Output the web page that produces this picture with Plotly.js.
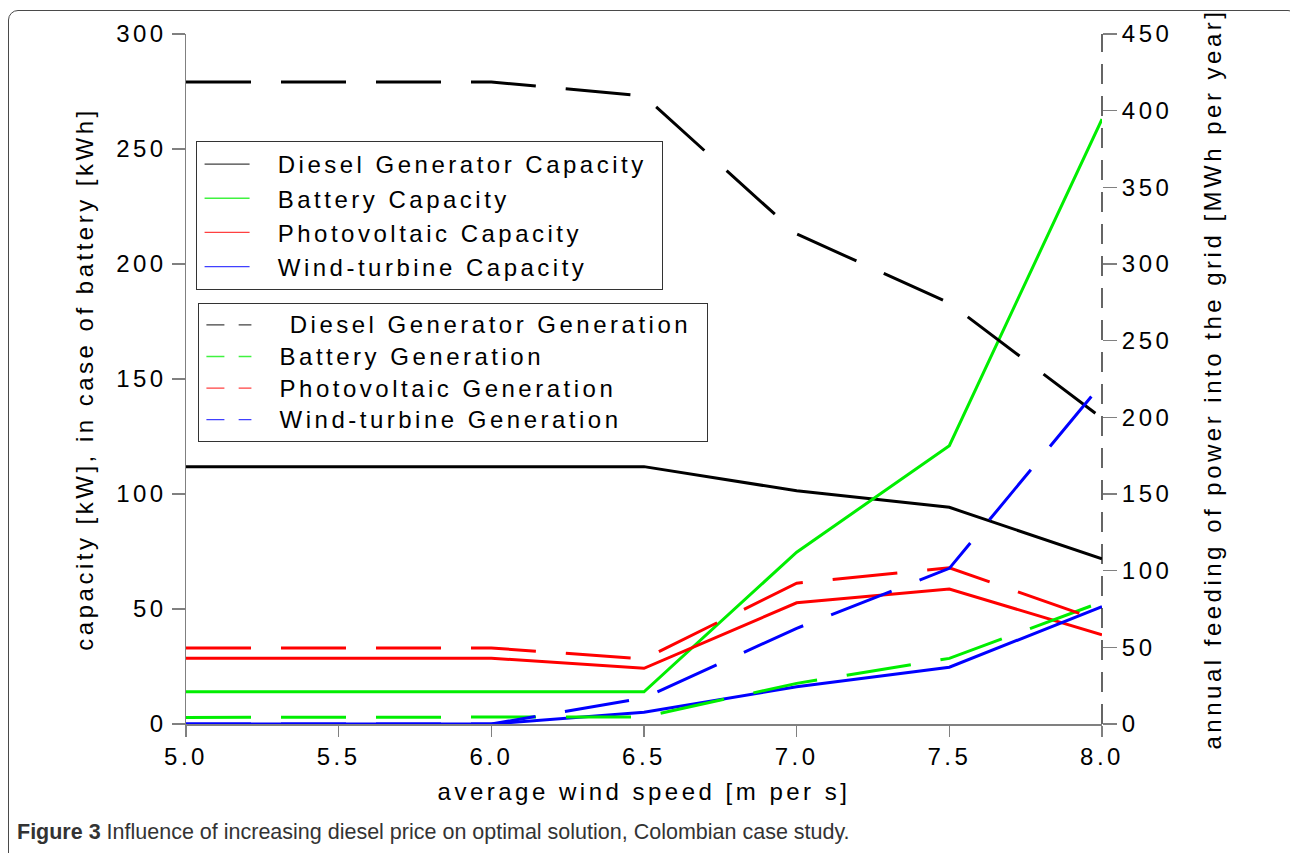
<!DOCTYPE html>
<html>
<head>
<meta charset="utf-8">
<script src="https://cdn.plot.ly/plotly-3.0.1.min.js"></script>
<style>
  html, body { margin: 0; padding: 0; background: #ffffff; overflow: hidden; }
  #frame { position: absolute; left: 8px; top: 10px; width: 1290px; height: 900px;
           border: 1.5px solid #4a4a4a; border-radius: 10px; box-sizing: border-box; }
  #chart { position: absolute; left: 0; top: 0; width: 1290px; height: 853px; }
  svg text:not(.annotation-text) { letter-spacing: 3.5px; }
  .legend2 text, .legend2 tspan { font-size: 24px !important; }
  g.legend .legendlines path { stroke-dasharray: none !important; stroke-width: 1.3px !important;
                               transform: scaleX(1.5); opacity: 0.75; }
  g.legend2 .legendlines path { stroke-dasharray: 12px, 9.5px !important; stroke-width: 1.3px !important;
                                transform: scaleX(1.5); opacity: 0.75; }
</style>
</head>
<body>
<div id="frame"></div>
<div id="chart"></div>
<script>
// wind speed [m/s]
const windSpeed = [5.0, 6.0, 6.5, 7.0, 7.5, 8.0];

// capacities (left axis) [kW] / [kWh]
const dieselCapacity  = [111.9, 111.9, 111.9, 101.4, 94.2, 71.8];
const batteryCapacity = [14.0, 14.0, 14.0, 74.7, 121.0, 263.0];
const pvCapacity      = [28.6, 28.6, 24.2, 52.7, 58.7, 38.8];
const windCapacity    = [0.0, 0.0, 5.1, 16.2, 24.7, 51.0];

// generation (right axis) [MWh per year]
const dieselGeneration  = [418.7, 418.7, 409.6, 319.6, 274.6, 199.4];
const batteryGeneration = [4.3, 4.3, 4.6, 26.5, 42.8, 79.6];
const pvGeneration      = [49.6, 49.6, 42.4, 91.8, 101.9, 67.0];
const windGeneration    = [0.0, 0.0, 17.0, 62.4, 101.5, 222.0];

const NB = "\u00a0";
const capNames = [NB.repeat(4) + "Diesel Generator Capacity" + NB, NB.repeat(4) + "Battery Capacity",
                  NB.repeat(4) + "Photovoltaic Capacity", NB.repeat(4) + "Wind-turbine Capacity"];
const genNames = [NB.repeat(5) + "Diesel Generator Generation" + NB.repeat(4), NB.repeat(4) + "Battery Generation",
                  NB.repeat(4) + "Photovoltaic Generation", NB.repeat(4) + "Wind-turbine Generation"];
const colors = ["#000000", "#00ee00", "#ff0000", "#0000ff"];

const capSeries = [dieselCapacity, batteryCapacity, pvCapacity, windCapacity];
const genSeries = [dieselGeneration, batteryGeneration, pvGeneration, windGeneration];

const traces = [];
capSeries.forEach((ys, i) => {
  traces.push({
    x: windSpeed, y: ys, type: "scatter", mode: "lines", name: capNames[i],
    line: { color: colors[i], width: 3 }, legend: "legend",
    xaxis: "x", yaxis: "y"
  });
});
genSeries.forEach((ys, i) => {
  traces.push({
    x: windSpeed, y: ys, type: "scatter", mode: "lines", name: genNames[i],
    line: { color: colors[i], width: 3, dash: "65px,30px" }, legend: "legend2",
    xaxis: "x", yaxis: "y2"
  });
});

const FAM = "Liberation Sans";
const baseFont = { family: FAM, size: 24, color: "#000000" };

const layout = {
  width: 1290, height: 853,
  margin: { l: 186, r: 188, t: 34, b: 129 },
  paper_bgcolor: "rgba(0,0,0,0)",
  plot_bgcolor: "#ffffff",
  font: baseFont,
  showlegend: true,
  xaxis: {
    range: [5, 8], dtick: 0.5, tick0: 5, tickformat: ".1f",
    showgrid: false, zeroline: false,
    showline: true, linecolor: "#808080", linewidth: 1.5,
    ticks: "outside", ticklen: 11, tickcolor: "#808080", tickwidth: 1.5,
    tickfont: baseFont,
    title: { text: "average wind speed [m per s]", font: baseFont, standoff: 14 }
  },
  yaxis: {
    range: [0, 300], dtick: 50, showgrid: false, zeroline: false,
    showline: true, linecolor: "#808080", linewidth: 1.5,
    ticks: "outside", ticklen: 13, tickcolor: "#808080", tickwidth: 1.5,
    tickfont: baseFont,
    title: { text: "capacity [kW], in case of battery [kWh]", font: baseFont, standoff: 16 }
  },
  yaxis2: {
    range: [0, 450], dtick: 50, overlaying: "y", side: "right",
    showgrid: false, zeroline: false, showline: false,
    ticks: "outside", ticklen: 14, tickcolor: "#808080", tickwidth: 1.5,
    tickfont: baseFont,
    title: { text: "annual feeding of power into the grid [MWh per year]", font: baseFont, standoff: 32 }
  },
  legend: {
    x: 0.011, y: 0.845, xanchor: "left", yanchor: "top",
    bgcolor: "#ffffff", bordercolor: "#333333", borderwidth: 1,
    font: { family: FAM, size: 24, color: "#000000" },
    traceorder: "normal"
  },
  legend2: {
    x: 0.013, y: 0.61, xanchor: "left", yanchor: "top",
    bgcolor: "#ffffff", bordercolor: "#333333", borderwidth: 1,
    font: { family: FAM, size: 22, color: "#000000" },
    traceorder: "normal"
  },
  shapes: [{
    type: "line", xref: "paper", yref: "paper", x0: 1, x1: 1, y0: 0, y1: 1,
    line: { color: "#000000", width: 1.2, dash: "20px,12px" }
  }],
  annotations: [{
    xref: "paper", yref: "paper", x: -0.187, y: -0.157, xanchor: "left", yanchor: "middle",
    showarrow: false, align: "left",
    text: "<b>Figure 3</b> Influence of increasing diesel price on optimal solution, Colombian case study.",
    font: { family: FAM, size: 21.5, color: "#333333" }
  }]
};

Plotly.newPlot("chart", traces, layout, { displayModeBar: false, staticPlot: true }).then(gd => {
  // enlarge the second legend's text to match the first one (kept compact row spacing)
  gd.querySelectorAll(".legend2 text.legendtext").forEach(t => {
    t.style.setProperty("font-size", "24px", "important");
  });
});
</script>
</body>
</html>
